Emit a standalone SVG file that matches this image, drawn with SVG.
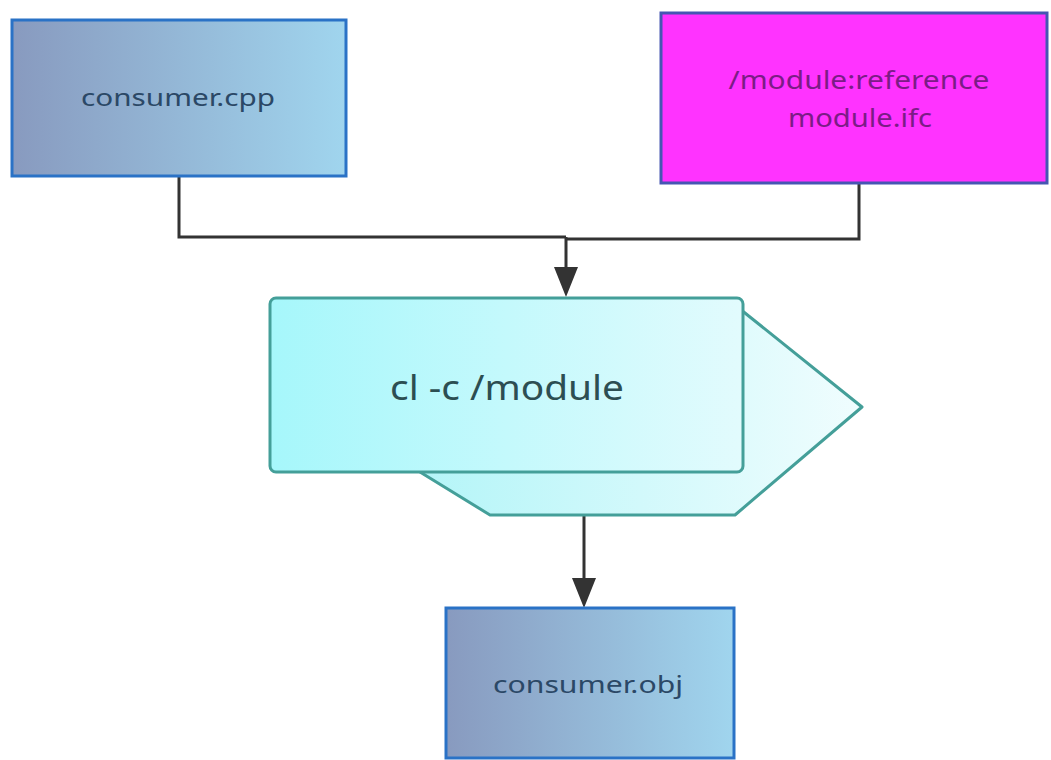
<svg xmlns="http://www.w3.org/2000/svg" width="1051" height="760" viewBox="0 0 1051 760">
  <style>
    .conn { fill: none; stroke: #333333; stroke-width: 3; }
    .file { stroke: #2a72c6; stroke-width: 3; fill: url(#fileFill); }
    .ifc { fill: #ff33ff; stroke: #4656b2; stroke-width: 3; }
    .proc { stroke: #449f99; stroke-width: 3; stroke-linejoin: round; }
    .label { font-family: "Noto Sans", "Open Sans", "Liberation Sans", sans-serif; text-anchor: middle; }
    .fileText { font-size: 24px; fill: #2b4866; }
    .ifcText { font-size: 25px; fill: #7b1c86; }
    .procText { font-size: 34px; fill: #2c4e52; }
  </style>
  <defs>
    <linearGradient id="fileFill" x1="0" y1="0" x2="1" y2="0">
      <stop offset="0" stop-color="#889abf"/>
      <stop offset="1" stop-color="#a0d5ee"/>
    </linearGradient>
    <linearGradient id="procFront" x1="0" y1="0" x2="1" y2="0">
      <stop offset="0" stop-color="#a6f7fb"/>
      <stop offset="1" stop-color="#e2fbfd"/>
    </linearGradient>
    <linearGradient id="procBack" x1="0" y1="0" x2="1" y2="0">
      <stop offset="0" stop-color="#b4f5f8"/>
      <stop offset="1" stop-color="#f0fdfe"/>
    </linearGradient>
    <marker id="arrow" markerUnits="userSpaceOnUse" markerWidth="30" markerHeight="24" refX="20" refY="12" orient="auto">
      <path d="M0,0 L30,12 L0,24 Z" fill="#333333"/>
    </marker>
  </defs>

  <!-- wiring between the steps -->
  <g id="connectors">
    <path class="conn" d="M179 176 V237 H566"/>
    <path class="conn" d="M859 183 V239 H566"/>
    <path class="conn" d="M566 237 V287" marker-end="url(#arrow)"/>
    <path class="conn" d="M584 515 V598" marker-end="url(#arrow)"/>
  </g>

  <g id="consumer-cpp">
    <rect class="file" x="12" y="20" width="334" height="156"/>
    <text class="label fileText" x="178" y="106" textLength="194" lengthAdjust="spacingAndGlyphs">consumer.cpp</text>
  </g>

  <g id="module-ifc">
    <rect class="ifc" x="661" y="13" width="386" height="170"/>
    <text class="label ifcText" x="859" y="89" textLength="261" lengthAdjust="spacingAndGlyphs">/module:reference</text>
    <text class="label ifcText" x="860" y="127" textLength="144" lengthAdjust="spacingAndGlyphs">module.ifc</text>
  </g>

  <!-- compiler step: rounded card over a pointed back plate -->
  <g id="compile">
    <polygon class="proc" fill="url(#procBack)" points="735,305 862,407 735,515 490,515 420,472 420,305"/>
    <rect class="proc" fill="url(#procFront)" x="270" y="298" width="473" height="174" rx="6" ry="6"/>
    <text class="label procText" x="507" y="400" textLength="234" lengthAdjust="spacingAndGlyphs">cl -c /module</text>
  </g>

  <g id="consumer-obj">
    <rect class="file" x="446" y="608" width="288" height="150"/>
    <text class="label fileText" x="588" y="693" textLength="190" lengthAdjust="spacingAndGlyphs">consumer.obj</text>
  </g>
</svg>
